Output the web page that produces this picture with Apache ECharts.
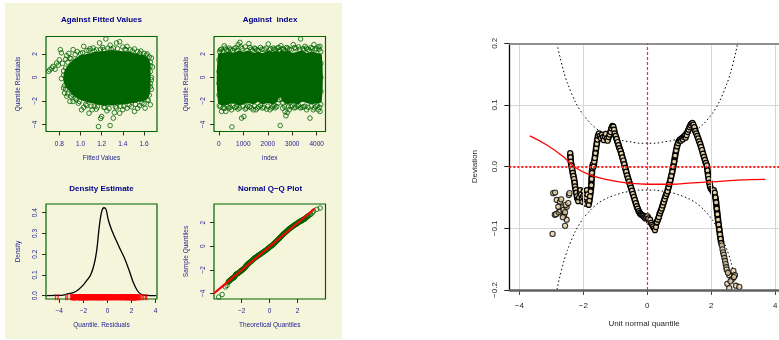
<!DOCTYPE html>
<html>
<head>
<meta charset="utf-8">
<script src="https://cdn.jsdelivr.net/npm/echarts@6/dist/echarts.min.js"></script>
<style>
html, body { margin: 0; padding: 0; background: #ffffff; }
#chart { width: 779px; height: 340px; }
</style>
</head>
<body>
<div id="chart"></div>
<script>
// ---------- Residuals against fitted values ----------
const fittedCoreX  = [0.85, 0.88, 0.92, 0.96, 1.00, 1.05, 1.10, 1.15, 1.20, 1.25, 1.30, 1.35, 1.40, 1.45, 1.50, 1.55, 1.60, 1.63, 1.65];
const fittedCoreUp = [0.3, 0.9, 1.3, 1.6, 1.8, 1.9, 2.0, 2.1, 2.15, 2.2, 2.25, 2.2, 2.15, 2.1, 2.0, 1.9, 1.8, 1.6, 1.2];
const fittedCoreLo = [-0.4, -0.9, -1.3, -1.6, -1.8, -2.0, -2.1, -2.2, -2.3, -2.3, -2.3, -2.25, -2.2, -2.15, -2.1, -2.0, -1.9, -1.7, -1.2];
const fittedPtsX = [
  0.70, 0.71, 0.73, 0.74, 0.76, 0.775, 0.79, 0.80, 0.81, 0.82, 0.83, 0.84, 0.82, 0.84, 0.86, 0.87, 0.89, 0.91, 0.93, 0.95, 0.97, 1.00,
  1.03, 1.06, 1.09, 1.12, 1.15, 1.18, 1.21, 1.24, 1.26, 1.28, 1.31, 1.34, 1.37, 1.40, 1.42, 1.44, 1.47, 1.51, 1.54, 1.57, 1.60, 1.63, 1.65, 1.67,
  1.66, 1.68, 1.66, 1.67, 1.66, 1.67, 1.65, 1.63, 1.66, 1.61, 1.60,
  1.56, 1.54, 1.51, 1.48, 1.44, 1.41, 1.40, 1.37, 1.34, 1.32, 1.31, 1.28, 1.27, 1.25, 1.22, 1.20, 1.19, 1.17, 1.15, 1.13, 1.11, 1.08, 1.06, 1.03, 1.01, 0.98, 0.96, 0.93, 0.91, 0.90, 0.88, 0.87, 0.85, 0.85, 0.86,
  0.88, 0.90, 0.92, 0.93, 0.95, 0.99, 1.02, 1.05, 1.08, 1.10, 1.13, 1.16, 1.19, 1.22, 1.23, 1.29, 1.33, 1.35, 1.38, 1.43, 1.46, 1.49, 1.52, 1.56, 1.58, 1.62, 1.64, 1.66, 1.67, 1.66, 0.86, 0.87, 0.84
];
const fittedPtsY = [
  0.52, 0.66, 0.80, 0.94, 0.70, 1.23, 1.05, 1.50, 2.37, 2.10, 1.20, 0.20, -0.10, 0.55, 1.55, 1.85, 2.05, 1.60, 2.37, 1.95, 2.20, 2.05,
  2.65, 2.30, 2.45, 2.51, 2.35, 2.94, 2.55, 3.28, 2.50, 2.75, 2.50, 2.94, 3.05, 2.60, 2.40, 2.65, 2.35, 2.43, 2.20, 2.25, 2.05, 2.00, 1.75, 1.66,
  1.30, 0.90, 0.50, 0.00, -0.50, -1.00, -1.50, -1.90, -2.33, -2.62, -2.25,
  -2.40, -2.62, -2.90, -2.50, -2.62, -2.45, -2.75, -3.05, -2.60, -3.00, -3.47, -4.10, -2.65, -2.85, -2.55, -3.33, -3.50, -4.19, -2.70, -2.45, -2.76, -3.05, -2.40, -2.55, -2.76, -2.20, -1.90, -2.05, -1.60, -2.05, -1.40, -1.60, -1.33, -0.70, -1.00,
  1.30, 1.65, 0.80, -1.50, -1.75, -2.05, 2.10, -2.30, 2.30, -2.45, 2.25, -2.50, 2.40, 2.35, -2.55, 2.40, -2.50, 2.45, -2.45, 2.35, -2.35, 2.25, -2.30, 2.05, -2.20, 1.90, -1.95, 1.00, -0.20, -0.80, 0.80, -0.30, -0.90
];

// ---------- Residuals against observation index ----------
const indexCoreX  = [0, 200, 400, 600, 800, 1000, 1200, 1400, 1600, 1800, 2000, 2200, 2350, 2450, 2550, 2650, 2800, 3000, 3200, 3400, 3600, 3800, 4000, 4170];
const indexCoreUp = [1.9, 2.0, 2.1, 2.0, 2.2, 2.1, 2.2, 2.0, 2.1, 2.0, 2.2, 2.1, 2.2, 2.1, 2.2, 2.1, 2.2, 2.0, 2.1, 2.2, 2.0, 2.1, 2.0, 1.9];
const indexCoreLo = [-2.1, -2.3, -2.2, -2.1, -2.3, -2.2, -2.1, -2.2, -2.0, -2.2, -2.1, -2.2, -2.0, -1.6, -1.6, -2.0, -2.2, -2.1, -2.2, -2.0, -2.1, -2.2, -2.1, -2.0];
const indexPtsX = [
  30, 100, 217, 320, 420, 560, 700, 790, 860, 950, 1080, 1228, 1320, 1450, 1560, 1700, 1850, 2018, 2120, 2223, 2330, 2440, 2538, 2640, 2760, 2880, 3041, 3150, 3250, 3343, 3440, 3520, 3640, 3760, 3888, 3980, 4060, 4134, 4165,
  20, 110, 246, 286, 400, 519, 532, 650, 780, 929, 1023, 1120, 1250, 1405, 1515, 1640, 1780, 1953, 2090, 2200, 2300, 2362, 2420, 2470, 2510, 2560, 2607, 2620, 2701, 2742, 2797, 2878, 2950, 3080, 3200, 3330, 3460, 3590, 3725, 3860, 3960, 4065, 4134, 4165,
  5, 5, 5, 5, 4170, 4170, 4170,
  60, 160, 260, 370, 480, 630, 740, 900, 1150, 1270, 1380, 1500, 1630, 1760, 1930, 2070, 2270, 2380, 2490, 2590, 2700, 2820, 2960, 3100, 3300, 3480, 3580, 3700, 3820, 3930, 4100,
  60, 170, 340, 460, 580, 720, 850, 980, 1080, 1180, 1330, 1460, 1580, 1700, 1850, 2000, 2150, 2250, 2680, 2840, 3000, 3140, 3260, 3400, 3520, 3650, 3780, 3900, 4020, 4110
];
const indexPtsY = [
  2.2, 2.4, 2.7, 2.35, 2.5, 2.3, 2.55, 2.80, 2.99, 2.45, 2.6, 2.88, 2.4, 2.5, 2.35, 2.55, 2.4, 2.85, 2.45, 2.5, 2.35, 2.55, 2.7, 2.4, 2.55, 2.4, 2.8, 2.45, 2.6, 3.28, 2.45, 2.65, 2.4, 2.55, 2.8, 2.45, 2.6, 2.65, 2.2,
  -2.4, -2.9, -2.62, -2.9, -2.6, -2.76, -4.22, -2.55, -2.7, -3.47, -3.33, -2.6, -2.5, -2.76, -2.76, -2.5, -2.6, -2.7, -2.76, -2.5, -2.6, -2.48, -2.2, -1.9, -4.1, -1.8, -2.62, -2.2, -2.9, -3.27, -3.0, -2.76, -2.5, -2.6, -2.45, -2.6, -2.5, -2.76, -3.47, -2.76, -2.5, -2.76, -2.9, -2.3,
  1.5, 0.5, -0.5, -1.5, 1.2, 0.0, -1.2,
  2.35, 2.25, 2.5, 2.3, 2.4, 2.45, 2.3, 2.6, 2.3, 2.55, 2.3, 2.45, 2.3, 2.4, 2.5, 2.35, 2.4, 2.5, 2.3, 2.45, 2.3, 2.5, 2.35, 2.55, 2.4, 2.35, 2.5, 2.3, 2.45, 2.35, 2.4,
  -2.5, -2.6, -2.45, -2.55, -2.4, -2.5, -2.6, -2.45, -2.7, -2.45, -2.6, -2.45, -2.6, -2.4, -2.55, -2.45, -2.6, -2.4, -2.45, -2.5, -2.4, -2.55, -2.4, -2.55, -2.45, -2.55, -2.45, -2.6, -2.4, -2.55
];

// ---------- Kernel density of the quantile residuals ----------
const densX = [-5.05, -4.2, -3.67, -3.39, -2.84, -2.42, -2.0, -1.68, -1.40, -1.12, -0.90, -0.68, -0.48, -0.29, -0.12, 0.07, 0.35, 0.71, 1.09, 1.45, 1.81, 2.14, 2.47, 2.84, 3.25, 4.05];
const densY = [0.0, 0.001, 0.003, 0.007, 0.015, 0.029, 0.052, 0.076, 0.100, 0.148, 0.215, 0.333, 0.405, 0.424, 0.416, 0.365, 0.317, 0.268, 0.220, 0.176, 0.120, 0.064, 0.025, 0.005, 0.001, 0.0];

// ---------- Worm plot: deviation of sample from theoretical quantiles ----------
const wormX = [
  -2.41, -2.40, -2.39, -2.37, -2.35, -2.33, -2.31, -2.29, -2.27, -2.26, -2.24, -2.22, -2.20, -2.18, -2.16, -2.13, -2.11, -2.09, -2.07, -2.05,
  -2.03, -2.01, -1.99, -1.97, -1.95, -1.93, -1.91, -1.89, -1.87, -1.85, -1.83, -1.81, -1.79, -1.77, -1.75, -1.74, -1.73, -1.72, -1.70, -1.68,
  -1.66, -1.64, -1.62, -1.60, -1.58, -1.56, -1.54, -1.51, -1.48, -1.45, -1.42, -1.39, -1.36, -1.33, -1.30, -1.27, -1.24, -1.21, -1.18, -1.15,
  -1.12, -1.09, -1.06, -1.04, -1.02, -0.99, -0.96, -0.93, -0.90, -0.87, -0.84, -0.81, -0.78, -0.75, -0.72, -0.69, -0.66, -0.63, -0.60, -0.57,
  -0.54, -0.51, -0.48, -0.45, -0.42, -0.39, -0.36, -0.33, -0.30, -0.27, -0.24, -0.21, -0.18, -0.15, -0.12, -0.09, -0.06, -0.03, 0.00, 0.03,
  0.06, 0.09, 0.12, 0.15, 0.18, 0.21, 0.24, 0.27, 0.30, 0.33, 0.36, 0.39, 0.42, 0.45, 0.48, 0.51, 0.54, 0.57, 0.60, 0.63,
  0.66, 0.69, 0.72, 0.75, 0.78, 0.81, 0.84, 0.87, 0.90, 0.93, 0.96, 0.99, 1.02, 1.05, 1.08, 1.11, 1.14, 1.17, 1.20, 1.23,
  1.26, 1.29, 1.32, 1.35, 1.38, 1.41, 1.44, 1.47, 1.50, 1.53, 1.56, 1.59, 1.62, 1.65, 1.68, 1.71, 1.74, 1.77, 1.80, 1.83,
  1.86, 1.88, 1.90, 1.92, 1.94, 1.96, 1.99, 2.02, 2.05, 2.08, 2.11, 2.13, 2.15, 2.17, 2.19, 2.21, 2.23, 2.25, 2.27, 2.29, 2.31
];
const wormY = [
  0.022, 0.015, 0.008, 0.002, -0.004, -0.010, -0.015, -0.020, -0.026, -0.032, -0.037, -0.042, -0.048, -0.053, -0.056, -0.050, -0.042, -0.038, -0.045, -0.052,
  -0.057, -0.048, -0.040, -0.046, -0.055, -0.060, -0.050, -0.038, -0.045, -0.058, -0.062, -0.055, -0.048, -0.040, -0.030, -0.020, -0.010, -0.002, 0.004, 0.000,
  0.008, 0.014, 0.022, 0.030, 0.037, 0.044, 0.050, 0.054, 0.050, 0.046, 0.052, 0.048, 0.043, 0.049, 0.053, 0.046, 0.042, 0.048, 0.052, 0.056,
  0.062, 0.066, 0.065, 0.060, 0.054, 0.050, 0.045, 0.040, 0.035, 0.030, 0.026, 0.021, 0.015, 0.010, 0.004, -0.002, -0.008, -0.014, -0.019, -0.024,
  -0.029, -0.034, -0.039, -0.044, -0.049, -0.054, -0.059, -0.064, -0.068, -0.072, -0.075, -0.077, -0.078, -0.079, -0.080, -0.082, -0.084, -0.082, -0.080, -0.084,
  -0.088, -0.086, -0.091, -0.094, -0.097, -0.100, -0.103, -0.098, -0.090, -0.086, -0.082, -0.076, -0.072, -0.068, -0.063, -0.058, -0.053, -0.048, -0.044, -0.040,
  -0.034, -0.028, -0.022, -0.015, -0.008, 0.000, 0.008, 0.018, 0.026, 0.033, 0.038, 0.042, 0.044, 0.042, 0.046, 0.044, 0.048, 0.050, 0.047, 0.051,
  0.056, 0.060, 0.064, 0.067, 0.070, 0.071, 0.068, 0.064, 0.058, 0.054, 0.050, 0.046, 0.041, 0.037, 0.032, 0.027, 0.021, 0.016, 0.011, 0.006,
  0.002, -0.006, -0.014, -0.020, -0.026, -0.032, -0.036, -0.038, -0.040, -0.038, -0.042, -0.050, -0.058, -0.068, -0.077, -0.086, -0.094, -0.102, -0.110, -0.117, -0.124
];
// sparse tails of the worm
const wormTailX = [
  -2.96, -2.94, -2.88, -2.89, -2.83, -2.85, -2.77, -2.73, -2.69, -2.72, -2.66, -2.62, -2.60, -2.57, -2.57, -2.52, -2.52, -2.55, -2.47, -2.45, -2.43, -2.64, -2.78,
  2.33, 2.35, 2.37, 2.39, 2.41, 2.43, 2.45, 2.47, 2.48, 2.56, 2.69, 2.74, 2.64, 2.71, 2.50, 2.56, 2.77, 2.875, 2.52, 2.60
];
const wormTailY = [
  -0.109, -0.043, -0.042, -0.078, -0.054, -0.077, -0.074, -0.057, -0.053, -0.071, -0.066, -0.070, -0.079, -0.074, -0.096, -0.086, -0.065, -0.062, -0.059, -0.046, -0.043, -0.082, -0.065,
  -0.128, -0.134, -0.139, -0.143, -0.148, -0.153, -0.158, -0.163, -0.167, -0.176, -0.169, -0.176, -0.183, -0.179, -0.190, -0.197, -0.193, -0.195, -0.172, -0.186
];
// extreme quantile pairs lying beyond the worm's vertical range
const qqExtraX = [-3.64, -3.40, -3.16, -3.05, 2.95, 3.05, 3.14, 3.38, 3.62];
const qqExtraY = [-4.31, -4.10, -3.46, -3.32, 2.72, 2.85, 2.97, 3.14, 3.25];
// reference line of the normal Q-Q plot
const qqLineX = [-3.96, 3.24];
const qqLineY = [-3.98, 3.20];

// 95% pointwise band of the worm plot
const ciX  = [-2.85, -2.8, -2.75, -2.6, -2.5, -2.25, -2, -1.75, -1.5, -1.25, -1, -0.75, -0.5, -0.25, 0, 0.25, 0.5, 0.75, 1, 1.25, 1.5, 1.75, 2, 2.25, 2.5, 2.6, 2.75, 2.8, 2.85];
const ciUp = [0.206, 0.194, 0.182, 0.152, 0.136, 0.105, 0.084, 0.069, 0.058, 0.051, 0.046, 0.042, 0.040, 0.038, 0.038, 0.038, 0.040, 0.042, 0.046, 0.051, 0.058, 0.069, 0.084, 0.105, 0.136, 0.152, 0.182, 0.194, 0.206];
const ciLo = [-0.206, -0.194, -0.182, -0.152, -0.136, -0.105, -0.084, -0.069, -0.058, -0.051, -0.046, -0.042, -0.040, -0.038, -0.038, -0.038, -0.040, -0.042, -0.046, -0.051, -0.058, -0.069, -0.084, -0.105, -0.136, -0.152, -0.182, -0.194, -0.206];
// fitted cubic through the worm
const fitX = [-3.67, -3.14, -2.62, -2.31, -1.79, -1.06, -0.54, 0, 0.8, 1.2, 2, 2.8, 3.69];
const fitY = [0.050, 0.035, 0.016, 0.001, -0.0135, -0.023, -0.027, -0.0285, -0.0285, -0.027, -0.0248, -0.022, -0.0205];

// ---------- tick positions ----------
const fittedTicks = [0.8, 1.0, 1.2, 1.4, 1.6];
const indexTicks  = [0, 1000, 2000, 3000, 4000];
const residTicks  = [-4, -2, 0, 2];
const densXTicks  = [-4, -2, 0, 2, 4];
const densYTicks  = [0, 0.1, 0.2, 0.3, 0.4];
const qqXTicks    = [-2, 0, 2];
const wormXTicks  = [-4, -2, 0, 2, 4];
const wormGridX   = [-4, -2, 2, 4];

// ---------- helpers ----------
const FONT = "'Liberation Sans', Arial, Helvetica, sans-serif";
const BLUE = '#00008B';
const LAB = '#1c1c8f';
const GREEN = '#006400';
const minus = s => String(s).replace('-', '\u2212');
const fmtInt = v => minus(String(v));
const fmt1 = v => minus(v.toFixed(1));
const zip = (xs, ys) => xs.map((x, i) => [x, ys[i]]);

// theoretical quantile vs. sample quantile, and the sorted residuals themselves
const allTheo = wormX.concat(wormTailX, qqExtraX);
const allDev = wormY.concat(wormTailY);
const qqSample = allTheo.map((x, i) => i < allDev.length ? +(x + allDev[i]).toFixed(3) : qqExtraY[i - allDev.length]);
const rugX = qqSample;

function panelAxis(gi, min, max, ticks, fmt, name, isY) {
  return {
    type: 'value', gridIndex: gi, min: min, max: max,
    axisLine: { show: false, onZero: false },
    axisTick: { show: true, customValues: ticks, length: 4, lineStyle: { color: '#203820', width: 1 } },
    axisLabel: { show: true, customValues: ticks, formatter: fmt, fontSize: 6.5, color: LAB, fontFamily: FONT,
                 margin: isY ? 7 : 9, rotate: isY ? 90 : 0 },
    splitLine: { show: false },
    name: name, nameLocation: 'middle', nameGap: isY ? 24 : 23,
    nameTextStyle: { fontSize: 6.5, color: LAB, fontFamily: FONT }
  };
}

function coreSeries(gi, xs, up, lo) {
  return {
    type: 'custom', xAxisIndex: gi, yAxisIndex: gi, silent: true, z: 1,
    data: xs.map((x, i) => [x, up[i], lo[i]]),
    encode: { x: 0, y: [1, 2] },
    renderItem: function (params, api) {
      if (params.dataIndex !== 0) return null;
      const pts = [];
      for (let i = 0; i < xs.length; i++) pts.push(api.coord([xs[i], up[i]]));
      for (let i = xs.length - 1; i >= 0; i--) pts.push(api.coord([xs[i], lo[i]]));
      return { type: 'polygon', shape: { points: pts, smooth: 0.3 },
               style: { fill: GREEN, stroke: GREEN, lineWidth: 2 } };
    }
  };
}

function hollow(gi, data) {
  return {
    type: 'scatter', xAxisIndex: gi, yAxisIndex: gi, data: data, symbol: 'circle', symbolSize: 4.6, z: 2,
    itemStyle: { color: 'rgba(0,100,0,0)', borderColor: GREEN, borderWidth: 1 }, silent: true
  };
}

const grids = [
  { left: 46, top: 36.5, width: 111, height: 95 },
  { left: 214, top: 36.5, width: 111.5, height: 95 },
  { left: 46, top: 204, width: 111, height: 95 },
  { left: 214, top: 204, width: 111.5, height: 95 }
].map(g => Object.assign(g, { show: true, borderColor: GREEN, borderWidth: 1.2, backgroundColor: 'transparent', containLabel: false, outerBoundsMode: 'none' }));
grids.push({ left: 509.3, top: 43.3, width: 269.7, height: 246.7, show: false, containLabel: false, outerBoundsMode: 'none' });

const titles = [
  ['Against Fitted Values', 101.5, 20],
  ['Against  index', 270, 20],
  ['Density Estimate', 101.5, 188.5],
  ['Normal Q\u2212Q Plot', 270, 188.5]
];

const option = {
  animation: false,
  backgroundColor: '#ffffff',
  graphic: [
    { type: 'rect', z: -10, silent: true, shape: { x: 5, y: 3, width: 337, height: 336 }, style: { fill: '#F5F5DC' } }
  ].concat(titles.map(t => ({
    type: 'text', z: 10, silent: true, x: t[1], y: t[2],
    style: { text: t[0], fill: BLUE, font: 'bold 8px ' + FONT, textAlign: 'center', textVerticalAlign: 'middle' }
  }))),
  grid: grids,
  xAxis: [
    panelAxis(0, 0.674, 1.723, fittedTicks, fmt1, 'Fitted Values', false),
    panelAxis(1, -200, 4360, indexTicks, fmtInt, 'index', false),
    panelAxis(2, -5.10, 4.11, densXTicks, fmtInt, 'Quantile. Residuals', false),
    panelAxis(3, -3.98, 4.0, qqXTicks, fmtInt, 'Theoretical Quantiles', false),
    {
      type: 'value', gridIndex: 4, min: -4.3125, max: 4.1156,
      axisLine: { show: false, onZero: false },
      axisTick: { show: true, customValues: wormXTicks, length: 5, lineStyle: { color: '#444', width: 1 } },
      axisLabel: { customValues: wormXTicks, formatter: fmtInt, fontSize: 8, color: '#262626', fontFamily: FONT, margin: 12 },
      splitLine: { show: false },
      name: 'Unit normal quantile', nameLocation: 'middle', nameGap: 30,
      nameTextStyle: { fontSize: 8, color: '#262626', fontFamily: FONT }
    }
  ],
  yAxis: [
    panelAxis(0, -4.61, 3.49, residTicks, fmtInt, 'Quantile Residuals', true),
    panelAxis(1, -4.61, 3.49, residTicks, fmtInt, 'Quantile Residuals', true),
    panelAxis(2, -0.016, 0.442, densYTicks, fmt1, 'Density', true),
    panelAxis(3, -4.48, 3.59, residTicks, fmtInt, 'Sample Quantiles', true),
    {
      type: 'value', gridIndex: 4, min: -0.2, max: 0.2, interval: 0.1,
      axisLine: { show: true, onZero: false, lineStyle: { color: '#000', width: 1.3 } },
      axisTick: { show: true, length: 5, lineStyle: { color: '#222', width: 1 } },
      axisLabel: { formatter: fmt1, fontSize: 8, color: '#262626', fontFamily: FONT, margin: 11, rotate: 90 },
      splitLine: { show: true, lineStyle: { color: '#d6d6d6', width: 1 } },
      name: 'Deviation', nameLocation: 'middle', nameGap: 31,
      nameTextStyle: { fontSize: 8, color: '#262626', fontFamily: FONT }
    }
  ],
  series: [
    coreSeries(0, fittedCoreX, fittedCoreUp, fittedCoreLo),
    hollow(0, zip(fittedPtsX, fittedPtsY)),
    coreSeries(1, indexCoreX, indexCoreUp, indexCoreLo),
    hollow(1, zip(indexPtsX, indexPtsY)),
    {
      type: 'line', xAxisIndex: 2, yAxisIndex: 2, data: zip(densX, densY), smooth: 0.35,
      symbol: 'none', lineStyle: { color: '#000', width: 1.3 }, z: 2, silent: true
    },
    {
      type: 'scatter', xAxisIndex: 2, yAxisIndex: 2, data: rugX.map(v => [v, 0]), symbol: 'rect',
      symbolSize: [1.4, 6], symbolOffset: [0, 1.5], itemStyle: { color: '#ff0000' }, z: 3, silent: true
    },
    hollow(3, zip(allTheo, qqSample)),
    {
      type: 'line', xAxisIndex: 3, yAxisIndex: 3, data: zip(qqLineX, qqLineY), symbol: 'none',
      lineStyle: { color: '#ff0000', width: 2 }, z: 3, silent: true
    },
    // worm plot: upper band, carrying the grid lines
    {
      type: 'line', xAxisIndex: 4, yAxisIndex: 4, data: zip(ciX, ciUp), smooth: 0.3, symbol: 'none',
      lineStyle: { color: '#000', width: 1, type: [1.5, 2.5] }, z: 2, silent: true,
      markLine: {
        silent: true, symbol: 'none', label: { show: false }, animation: false,
        lineStyle: { color: '#d6d6d6', width: 1, type: 'solid' },
        data: wormGridX.map(v => ({ xAxis: v })).concat([
          { yAxis: 0.2, lineStyle: { color: '#8f8f8f', width: 2, type: 'solid' } },
          { yAxis: -0.2, lineStyle: { color: '#606060', width: 2.5, type: 'solid' } }
        ])
      }
    },
    // lower band, carrying the red reference lines at zero
    {
      type: 'line', xAxisIndex: 4, yAxisIndex: 4, data: zip(ciX, ciLo), smooth: 0.3, symbol: 'none',
      lineStyle: { color: '#000', width: 1, type: [1.5, 2.5] }, z: 2, silent: true,
      markLine: {
        silent: true, symbol: 'none', label: { show: false }, animation: false,
        lineStyle: { color: '#ff2a2a', width: 1.2, type: [3, 2] },
        data: [
          { xAxis: 0 },
          { yAxis: 0, lineStyle: { color: '#ff2020', width: 2, type: [2, 2] } }
        ]
      }
    },
    {
      type: 'line', xAxisIndex: 4, yAxisIndex: 4, data: zip(wormX, wormY), symbol: 'circle', symbolSize: 5,
      showSymbol: true, showAllSymbol: true,
      lineStyle: { color: '#000', width: 6.5 },
      itemStyle: { color: '#E3CFA5', borderColor: '#000', borderWidth: 1.2 }, z: 4, silent: true
    },
    {
      type: 'scatter', xAxisIndex: 4, yAxisIndex: 4, data: zip(wormTailX, wormTailY), symbol: 'circle', symbolSize: 5.2,
      itemStyle: { color: '#E3CFA5', borderColor: '#000', borderWidth: 1.1 }, z: 4, silent: true
    },
    {
      type: 'line', xAxisIndex: 4, yAxisIndex: 4, data: zip(fitX, fitY), smooth: true, symbol: 'none',
      lineStyle: { color: '#ff0000', width: 1.3 }, z: 5, silent: true
    }
  ]
};

const chart = echarts.init(document.getElementById('chart'), null, { renderer: 'canvas', width: 779, height: 340 });
chart.setOption(option);
</script>
</body>
</html>
